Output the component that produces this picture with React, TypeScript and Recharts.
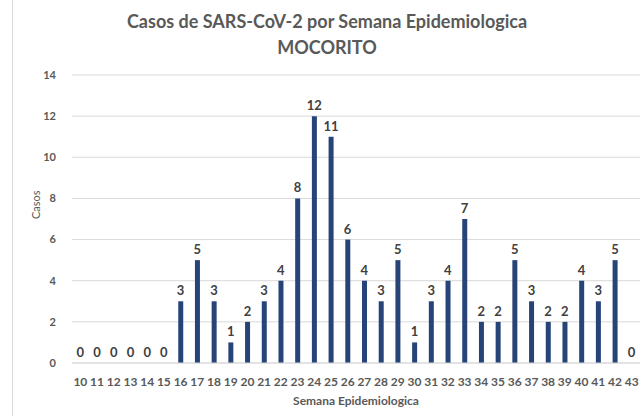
import React from "react";
import {
  ComposedChart,
  Bar,
  Line,
  XAxis,
  YAxis,
  CartesianGrid,
  LabelList,
} from "recharts";

const weeks = [
  "10", "11", "12", "13", "14", "15", "16", "17", "18", "19", "20", "21",
  "22", "23", "24", "25", "26", "27", "28", "29", "30", "31", "32", "33",
  "34", "35", "36", "37", "38", "39", "40", "41", "42", "43",
];

const cases = [
  0, 0, 0, 0, 0, 0, 3, 5, 3, 1, 2, 3, 4, 8, 12, 11, 6, 4, 3, 5, 1, 3, 4, 7,
  2, 2, 5, 3, 2, 2, 4, 3, 5, 0,
];

const yTicks = [0, 2, 4, 6, 8, 10, 12, 14];

const titleLine1 = "Casos de SARS-CoV-2 por Semana Epidemiologica";
const titleLine2 = "MOCORITO";

const font = "Lato, 'Open Sans', sans-serif";

export default function App() {
  const data = weeks.map((w, i) => ({ week: w, casos: cases[i] }));

  return (
    <div
      style={{
        position: "absolute",
        top: 0,
        left: 0,
        width: 641,
        height: 416,
        background: "#fff",
        fontFamily: font,
      }}
    >
      <div
        style={{
          position: "absolute",
          left: 12,
          top: 0,
          width: 1,
          height: 416,
          background: "#d9d9d9",
        }}
      />
      <div
        style={{
          position: "absolute",
          top: 8,
          left: 0,
          width: 654,
          textAlign: "center",
          color: "#595959",
          fontWeight: 700,
          fontSize: 18,
          lineHeight: "26px",
        }}
      >
        <div>{titleLine1}</div>
        <div>{titleLine2}</div>
      </div>
      <ComposedChart
        width={641}
        height={416}
        data={data}
        margin={{ top: 75, right: 1, bottom: 0, left: 0 }}
        barCategoryGap={0}
      >
        <CartesianGrid vertical={false} stroke="#d9d9d9" />
        <XAxis
          dataKey="week"
          interval={0}
          tickLine={false}
          axisLine={{ stroke: "#d9d9d9" }}
          height={53}
          tick={{ fill: "#595959", fontSize: 12, fontWeight: 700, fontFamily: font }}
          tickMargin={8}
          label={{
            value: "Semana Epidemiologica",
            position: "insideBottom",
            offset: 11,
            fill: "#595959",
            fontSize: 12,
            fontWeight: 700,
            fontFamily: font,
          }}
        />
        <YAxis
          width={72}
          domain={[0, 14]}
          ticks={yTicks}
          tickLine={false}
          axisLine={false}
          tick={{ fill: "#595959", fontSize: 11, fontWeight: 700, fontFamily: font }}
          tickMargin={10}
          label={{
            value: "Casos",
            angle: -90,
            position: "insideLeft",
            offset: 36,
            fill: "#595959",
            fontSize: 11,
            fontFamily: font,
          }}
        />
        <Bar dataKey="casos" fill="#264478" barSize={5} isAnimationActive={false} />
        <Line
          dataKey="casos"
          stroke="none"
          dot={false}
          activeDot={false}
          isAnimationActive={false}
        >
          <LabelList
            dataKey="casos"
            position="top"
            offset={6}
            fill="#404040"
            fontSize={13}
            fontWeight={700}
            fontFamily={font}
          />
        </Line>
      </ComposedChart>
    </div>
  );
}
